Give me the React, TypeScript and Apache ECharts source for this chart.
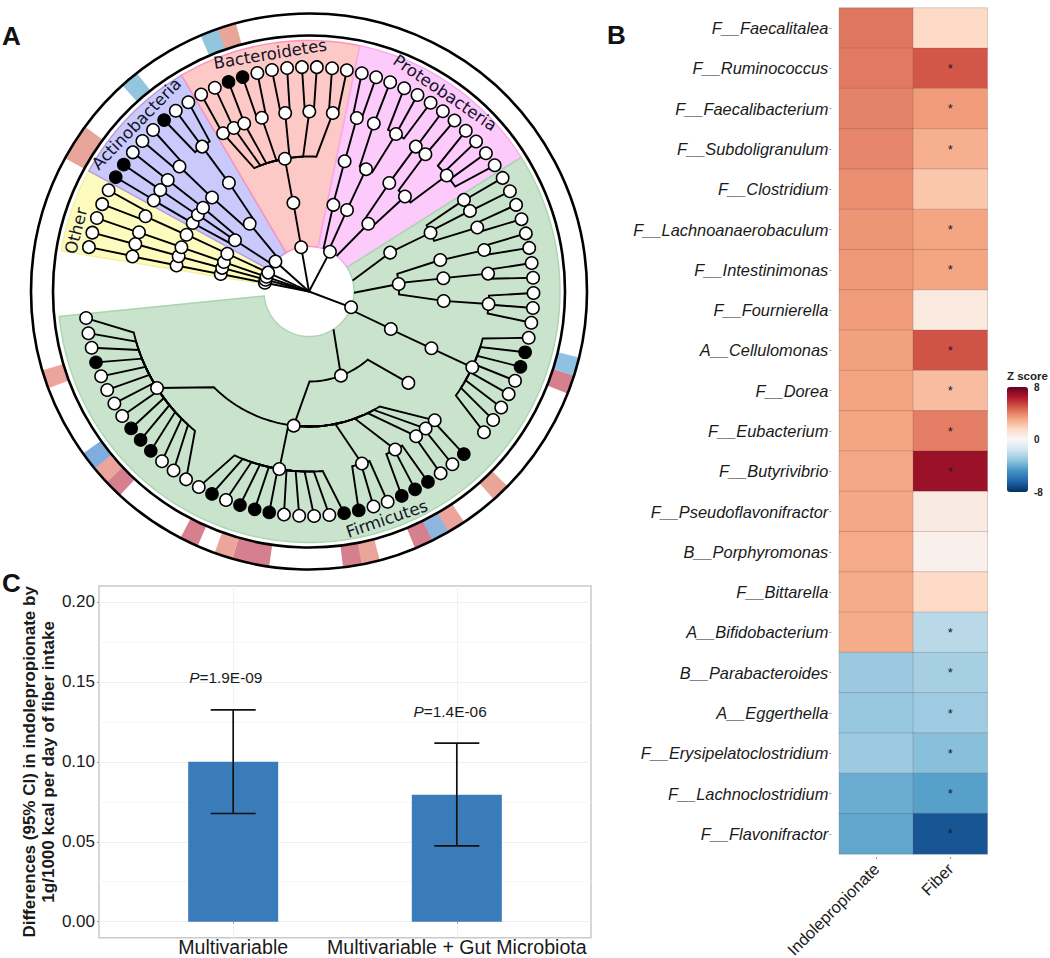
import React, { useEffect, useRef } from "react";
import * as echarts from "echarts";

// ---------- Panel A: taxonomic tree, angles in degrees clockwise from 9 o'clock ----------
const phylumNames = ["Other", "Actinobacteria", "Bacteroidetes", "Proteobacteria", "Firmicutes"];
const phylumStart = [9.3, 28.7, 59.5, 101.7, 147.7];
const phylumEnd = [28.7, 59.5, 101.7, 147.7, 354.3];
const phylumFill = ["#FDFCBE", "#C9C9FB", "#FDC9C6", "#FDCAFC", "#C9E3CC"];
const phylumEdge = ["#F3F0A0", "#B59CE0", "#FF90B8", "#F8A8EC", "#A9D6AE"];
const phylumLabelAngle = [14.6, 44.2, 80.7, 124.4, 251.1];

const level1 = [11.2, 15.2, 19.1, 24.8, 41.8, 80.0, 117.8, 200.6];
const level2Angle = [11.2, 15.2, 19.1, 24.8, 34.7, 48.8, 80.0, 105.7, 115.0, 131.2, 154.4, 175.2, 204.6, 249.2];
const level2Parent = [0, 1, 2, 3, 4, 4, 5, 6, 6, 6, 7, 7, 7, 7];
const level3Angle = [11.1, 15.1, 19.1, 24.9, 30.5, 34.6, 38.3, 44.1, 53.6, 79.7, 105.3, 115.0, 126.5, 135.3, 154.2, 166.5, 174.4, 184.0, 204.9, 276.5, 222.6];
const level3Parent = [0, 1, 2, 3, 4, 4, 4, 5, 5, 6, 7, 8, 9, 9, 10, 11, 11, 11, 12, 13, 13];
const level4Angle = [11.2, 15.3, 19.2, 24.7, 30.4, 34.3, 38.3, 44.0, 53.6, 61.5, 65.3, 68.9, 74.8, 82.4, 90.1, 97.6, 105.4, 111.1, 118.9, 126.4, 130.3, 139.9, 149.4, 153.4, 159.2, 166.7, 174.3, 184.0, 204.9, 225.7, 229.6, 233.5, 241.4, 252.9, 279.5, 327.6];
const level4Parent = [0, 1, 2, 3, 4, 5, 6, 7, 8, 9, 9, 9, 9, 9, 9, 9, 10, 11, 11, 12, 13, 13, 14, 14, 14, 15, 16, 17, 18, 19, 19, 19, 19, 19, 19, 19];
const tipAngle = [
  11.4, 15.2, 19.1, 22.9, 26.8, 30.6, 34.4, 38.3, 42.1, 46.0,
  49.8, 53.6, 57.5, 61.3, 65.2, 69.0, 72.8, 76.7, 80.5, 84.4,
  88.2, 92.0, 95.9, 99.7, 103.6, 107.4, 111.2, 115.1, 118.9, 122.8,
  126.6, 130.4, 134.3, 138.1, 142.0, 145.8, 149.6, 153.5, 157.3, 161.2,
  165.0, 168.8, 172.7, 176.5, 180.4, 184.2, 188.0, 191.9, 195.7, 199.6,
  203.4, 207.2, 211.1, 214.9, 218.8, 222.6, 226.4, 230.3, 234.1, 238.0,
  241.8, 245.6, 249.5, 253.3, 257.2, 261.0, 264.8, 268.7, 272.5, 276.4,
  280.2, 284.0, 287.9, 291.7, 295.6, 299.4, 303.2, 307.1, 310.9, 314.8,
  318.6, 322.4, 326.3, 330.1, 334.0, 337.8, 341.6, 345.5, 349.3, 353.2,
];
const tipParent = [
  0, 1, 2, 3, 3, 4, 5, 6, 7, 7,
  8, 8, 8, 9, 10, 11, 12, 12, 13, 13,
  14, 14, 15, 15, 16, 16, 17, 18, 18, 18,
  19, 20, 21, 21, 21, 21, 22, 23, 24, 24,
  25, 25, 26, 26, 27, 27, 27, 28, 28, 28,
  28, 28, 28, 28, 28, -1, 29, 30, 31, 32,
  32, 32, 33, 33, 33, 34, 34, 34, 34, 34,
  34, 34, 34, 34, 34, 34, 35, 35, 35, 35,
  35, 35, 35, 35, 35, 35, 35, 35, 35, 35,
];
const blackTips = [5, 6, 10, 15, 16, 48, 49, 56, 59, 60, 61, 64, 65, 70, 71, 72, 74, 79, 80, 81, 86];
const blackTipRing = ["#E6A598", "#E6A598", "#92C5DE", "#92C5DE", "#E8A598", "#8FC1E3", "#D67F8E", "#E8A598", "#EBA59B", "#8FB4DE", "#D67F8E", "#EBA59B", "#D67F8E", "#D67F8E", "#D67F8E", "#EBA59B", "#D67F8E", "#D67F8E", "#EBA59B", "#7FAEDE", "#EBA59B"];
const levelRadius = [45, 90, 135, 180, 224.5];
const ringRadii = [256, 278];

// ---------- Panel B: heat map ----------
const genera = [
  "F__Faecalitalea", "F__Ruminococcus", "F__Faecalibacterium", "F__Subdoligranulum", "F__Clostridium",
  "F__Lachnoanaerobaculum", "F__Intestinimonas", "F__Fournierella", "A__Cellulomonas", "F__Dorea",
  "F__Eubacterium", "F__Butyrivibrio", "F__Pseudoflavonifractor", "B__Porphyromonas", "F__Bittarella",
  "A__Bifidobacterium", "B__Parabacteroides", "A__Eggerthella", "F__Erysipelatoclostridium",
  "F__Lachnoclostridium", "F__Flavonifractor",
];
const heatColumns = ["Indolepropionate", "Fiber"];
const indolepropionateZ = [4.3, 4.2, 4.0, 3.95, 3.7, 3.55, 3.5, 3.4, 3.3, 3.25, 3.2, 3.15, 3.1, 3.05, 3.0, 3.0, -3.0, -3.05, -2.95, -4.0, -4.2];
const fiberZ = [1.6, 5.0, 3.4, 2.9, 2.2, 3.2, 3.2, 0.8, 5.1, 2.5, 4.1, 6.9, 0.7, 0.4, 1.6, -2.2, -2.7, -2.9, -3.4, -4.4, -6.9];
const fiberStar = [0, 1, 1, 1, 0, 1, 1, 0, 1, 1, 1, 1, 0, 0, 0, 1, 1, 1, 1, 1, 1];
const rdBu = ["#053061", "#2166AC", "#4393C3", "#92C5DE", "#D1E5F0", "#F7F7F7", "#FDDBC7", "#F4A582", "#D6604D", "#B2182B", "#67001F"];

// ---------- Panel C: bars ----------
const modelNames = ["Multivariable", "Multivariable + Gut Microbiota"];
const modelPos = [1, 2];
const modelEffect = [0.1, 0.0794];
const modelLower = [0.0677, 0.0474];
const modelUpper = [0.1325, 0.1117];
const modelP = ["=1.9E-09", "=1.4E-06"];
const modelPX = [0.967, 1.97];
const modelPY = [0.1527, 0.1316];
const yTicks = [0, 0.05, 0.1, 0.15, 0.2];
const yMinorGrid = [0.025, 0.075, 0.125, 0.175];

const SANS = "'Liberation Sans', Arial, sans-serif";
const DEJA = "'DejaVu Sans', sans-serif";

function arc(api: any, r: number, a0: number, a1: number) {
  const n = Math.max(1, Math.ceil(Math.abs(a1 - a0) / 1.5));
  const pts: number[][] = [];
  for (let i = 0; i <= n; i++) pts.push(api.coord([r, a0 + ((a1 - a0) * i) / n]));
  return pts;
}

function buildEdges() {
  const edges: number[][] = [];
  level1.forEach((a) => edges.push([levelRadius[0], a, 0, a]));
  level2Angle.forEach((a, i) => edges.push([levelRadius[1], a, levelRadius[0], level1[level2Parent[i]]]));
  level3Angle.forEach((a, i) => edges.push([levelRadius[2], a, levelRadius[1], level2Angle[level3Parent[i]]]));
  level4Angle.forEach((a, i) => edges.push([levelRadius[3], a, levelRadius[2], level3Angle[level4Parent[i]]]));
  tipAngle.forEach((a, i) => {
    if (tipParent[i] >= 0) edges.push([levelRadius[4], a, levelRadius[3], level4Angle[tipParent[i]]]);
  });
  return edges;
}

function buildOption(): any {
  const heatData: any[] = [];
  genera.forEach((_, i) => {
    heatData.push([0, i, indolepropionateZ[i]]);
    heatData.push([1, i, fiberZ[i]]);
  });
  const whiteNodes: number[][] = [];
  level1.forEach((a) => whiteNodes.push([levelRadius[0], a]));
  level2Angle.forEach((a) => whiteNodes.push([levelRadius[1], a]));
  level3Angle.forEach((a) => whiteNodes.push([levelRadius[2], a]));
  level4Angle.forEach((a) => whiteNodes.push([levelRadius[3], a]));
  tipAngle.forEach((a, i) => {
    if (tipParent[i] >= 0 && !blackTips.includes(i)) whiteNodes.push([levelRadius[4], a]);
  });
  const blackNodes = blackTips.map((i) => [levelRadius[4], tipAngle[i]]);
  const polarEnc = { radius: 0, angle: 1 };

  return {
    animation: false,
    backgroundColor: "#fff",
    polar: { center: [309, 291.5], radius: [0, 278] },
    angleAxis: { type: "value", min: 0, max: 360, startAngle: 180, clockwise: true, show: false },
    radiusAxis: { type: "value", min: 0, max: 278, show: false },
    grid: [
      { left: 839.3, top: 8, width: 148, height: 846, show: false, outerBoundsMode: "none" },
      { left: 99, top: 586, width: 492, height: 351.7, show: true, borderColor: "#c9c9c9", borderWidth: 1.5, backgroundColor: "#fff", outerBoundsMode: "none" },
    ],
    xAxis: [
      {
        gridIndex: 0, type: "category", data: heatColumns, position: "bottom", offset: 3,
        axisLine: { show: false }, axisTick: { show: true, length: 2, alignWithLabel: true, lineStyle: { color: "#999" } }, splitLine: { show: false },
        axisLabel: { rotate: 45, interval: 0, margin: 9, fontSize: 16.4, fontFamily: SANS, color: "#1a1a1a" },
      },
      {
        gridIndex: 1, type: "value", min: 0.4, max: 2.6,
        axisLine: { show: false },
        axisTick: { show: true, length: 2, customValues: modelPos, lineStyle: { color: "#999" } },
        splitLine: { show: true, lineStyle: { color: "#f1f1f1", width: 1 } },
        axisLabel: { customValues: modelPos, formatter: (v: number) => modelNames[modelPos.indexOf(v)], margin: 1, lineHeight: 17, fontSize: 19.6, fontFamily: SANS, color: "#1a1a1a" },
      },
    ],
    yAxis: [
      {
        gridIndex: 0, type: "category", data: genera, inverse: true, position: "left", offset: 8,
        axisLine: { show: false }, axisTick: { show: true, length: 2, alignWithLabel: true, lineStyle: { color: "#999" } }, splitLine: { show: false },
        axisLabel: { interval: 0, margin: 3, fontSize: 16.4, fontStyle: "italic", fontFamily: SANS, color: "#1a1a1a" },
      },
      {
        gridIndex: 1, type: "value", min: -0.01, max: 0.21,
        axisLine: { show: false },
        axisTick: { show: true, length: 2, customValues: yTicks, lineStyle: { color: "#999" } },
        splitLine: { show: true, lineStyle: { color: "#f0f0f0", width: 1 } },
        axisLabel: { customValues: yTicks, formatter: (v: number) => v.toFixed(2), margin: 4, fontSize: 17, fontFamily: SANS, color: "#1a1a1a" },
        name: "Differences (95% CI) in indolepropionate by\n1g/1000 kcal per day of fiber intake",
        nameLocation: "middle", nameGap: 36.5, nameRotate: 90,
        nameTextStyle: { fontSize: 17, fontWeight: "bold", fontFamily: SANS, color: "#1a1a1a", lineHeight: 19 },
      },
      {
        gridIndex: 1, type: "value", min: -0.01, max: 0.21, position: "right",
        axisLine: { show: false },
        axisTick: { show: false, customValues: yMinorGrid },
        axisLabel: { show: false, customValues: yMinorGrid },
        splitLine: { show: true, lineStyle: { color: "#f6f6f6", width: 1 } },
      },
    ],
    visualMap: {
      type: "continuous", min: -8, max: 8, seriesIndex: 0, show: true, left: 1007, top: 387, padding: 0,
      itemWidth: 21, itemHeight: 105, calculable: false, inRange: { color: rdBu }, textStyle: { fontSize: 0 },
    },
    graphic: [
      { type: "text", left: 2, top: 23, style: { text: "A", fontSize: 26, fontWeight: "bold", fontFamily: SANS, fill: "#111" } },
      { type: "text", left: 607, top: 22, style: { text: "B", fontSize: 26, fontWeight: "bold", fontFamily: SANS, fill: "#111" } },
      { type: "text", left: 2, top: 570, style: { text: "C", fontSize: 26, fontWeight: "bold", fontFamily: SANS, fill: "#111" } },
      { type: "text", left: 1007, top: 370, style: { text: "Z score", fontSize: 11.5, fontWeight: "bold", fontFamily: SANS, fill: "#222" } },
      { type: "text", left: 1034, top: 382, style: { text: "8", fontSize: 10, fontWeight: "bold", fontFamily: SANS, fill: "#222" } },
      { type: "text", left: 1034, top: 434, style: { text: "0", fontSize: 10, fontWeight: "bold", fontFamily: SANS, fill: "#222" } },
      { type: "text", left: 1034, top: 487, style: { text: "-8", fontSize: 10, fontWeight: "bold", fontFamily: SANS, fill: "#222" } },
    ],
    series: [
      {
        type: "heatmap", xAxisIndex: 0, yAxisIndex: 0, data: heatData, z: 2,
        itemStyle: { borderColor: "rgba(90,70,70,0.22)", borderWidth: 1 },
        label: {
          show: true, fontSize: 13, color: "#1a1a2a", fontFamily: SANS,
          formatter: (p: any) => (p.data[0] === 1 && fiberStar[p.data[1]] ? "*" : ""),
        },
      },
      {
        type: "custom", coordinateSystem: "polar", polarIndex: 0, z: 1, encode: polarEnc,
        data: phylumStart.map((s) => [45, s]),
        renderItem: (params: any, api: any) => {
          const i = params.dataIndex;
          const points = arc(api, 251, phylumStart[i], phylumEnd[i]).concat(arc(api, 45, phylumEnd[i], phylumStart[i]));
          return { type: "polygon", shape: { points }, style: { fill: phylumFill[i], stroke: phylumEdge[i], lineWidth: 1.4 } };
        },
      },
      {
        type: "custom", coordinateSystem: "polar", polarIndex: 0, z: 2, encode: polarEnc,
        data: blackTips.map((i) => [267, tipAngle[i]]),
        renderItem: (params: any, api: any) => {
          const a = api.value(1);
          const points = arc(api, ringRadii[0], a - 1.95, a + 1.95).concat(arc(api, ringRadii[1], a + 1.95, a - 1.95));
          return { type: "polygon", shape: { points }, style: { fill: blackTipRing[params.dataIndex] } };
        },
      },
      {
        type: "custom", coordinateSystem: "polar", polarIndex: 0, z: 3, encode: polarEnc,
        data: ringRadii.map((r) => [r, 90]),
        renderItem: (_: any, api: any) => {
          const c = api.coord([0, 0]);
          const p = api.coord([api.value(0), 90]);
          return { type: "circle", shape: { cx: c[0], cy: c[1], r: Math.hypot(c[0] - p[0], c[1] - p[1]) }, style: { fill: "none", stroke: "#000", lineWidth: 2.6 } };
        },
      },
      {
        type: "custom", coordinateSystem: "polar", polarIndex: 0, z: 4, encode: polarEnc,
        data: buildEdges(),
        renderItem: (_: any, api: any) => {
          const rc = api.value(0), ac = api.value(1), rp = api.value(2), ap = api.value(3);
          const bracket = ap + 0.75 * (ac - ap);
          const pts = [api.coord([rc, ac])];
          if (rp > levelRadius[0]) pts.push(...arc(api, rp, bracket, ap));
          else pts.push(api.coord([rp, bracket]));
          return { type: "polyline", shape: { points: pts }, style: { fill: "none", stroke: "#000", lineWidth: 1.9 } };
        },
      },
      {
        type: "scatter", coordinateSystem: "polar", polarIndex: 0, z: 5, data: whiteNodes, symbol: "circle", symbolSize: 12.4,
        itemStyle: { color: "#fff", borderColor: "#000", borderWidth: 1.5, opacity: 1 },
      },
      {
        type: "scatter", coordinateSystem: "polar", polarIndex: 0, z: 5, data: blackNodes, symbol: "circle", symbolSize: 12.6,
        itemStyle: { color: "#000", borderColor: "#000", borderWidth: 1, opacity: 1 },
      },
      {
        type: "custom", coordinateSystem: "polar", polarIndex: 0, z: 6, encode: polarEnc,
        data: phylumLabelAngle.map((a) => [240.5, a]),
        renderItem: (params: any, api: any) => {
          const a = api.value(1);
          const p = api.coord([api.value(0), a]);
          const deg = a < 180 ? 90 - a : 270 - a;
          return {
            type: "text", x: p[0], y: p[1], rotation: (deg * Math.PI) / 180,
            style: { text: phylumNames[params.dataIndex], fontSize: 16.6, fontFamily: DEJA, fill: "#14142a", align: "center", verticalAlign: "middle" },
          };
        },
      },
      {
        type: "bar", xAxisIndex: 1, yAxisIndex: 1, barWidth: 90, z: 2,
        data: modelPos.map((x, i) => [x, modelEffect[i]]),
        itemStyle: { color: "#397CB9" },
      },
      {
        type: "custom", xAxisIndex: 1, yAxisIndex: 1, z: 3,
        data: modelPos.map((x, i) => [x, modelLower[i], modelUpper[i]]),
        renderItem: (_: any, api: any) => {
          const lo = api.coord([api.value(0), api.value(1)]);
          const hi = api.coord([api.value(0), api.value(2)]);
          const st = { stroke: "#111", lineWidth: 1.7 };
          return {
            type: "group",
            children: [
              { type: "line", shape: { x1: lo[0], y1: lo[1], x2: hi[0], y2: hi[1] }, style: st },
              { type: "line", shape: { x1: lo[0] - 22.5, y1: lo[1], x2: lo[0] + 22.5, y2: lo[1] }, style: st },
              { type: "line", shape: { x1: hi[0] - 22.5, y1: hi[1], x2: hi[0] + 22.5, y2: hi[1] }, style: st },
            ],
          };
        },
      },
      {
        type: "custom", xAxisIndex: 1, yAxisIndex: 1, z: 4,
        data: modelPX.map((x, i) => [x, modelPY[i]]),
        renderItem: (params: any, api: any) => {
          const p = api.coord([api.value(0), api.value(1)]);
          return {
            type: "text", x: p[0], y: p[1],
            style: {
              text: `{i|P}{n|${modelP[params.dataIndex]}}`, align: "center", verticalAlign: "middle",
              rich: {
                i: { fontSize: 15.4, fontStyle: "italic", fontFamily: SANS, fill: "#1a1a1a" },
                n: { fontSize: 15.4, fontFamily: SANS, fill: "#1a1a1a" },
              },
            },
          };
        },
      },
    ],
  };
}

export default function App() {
  const ref = useRef<HTMLDivElement>(null);
  useEffect(() => {
    const chart = echarts.init(ref.current!, null, { renderer: "svg" });
    chart.setOption(buildOption());
    return () => chart.dispose();
  }, []);
  return <div ref={ref} style={{ position: "fixed", left: 0, top: 0, width: 1050, height: 958 }} />;
}
